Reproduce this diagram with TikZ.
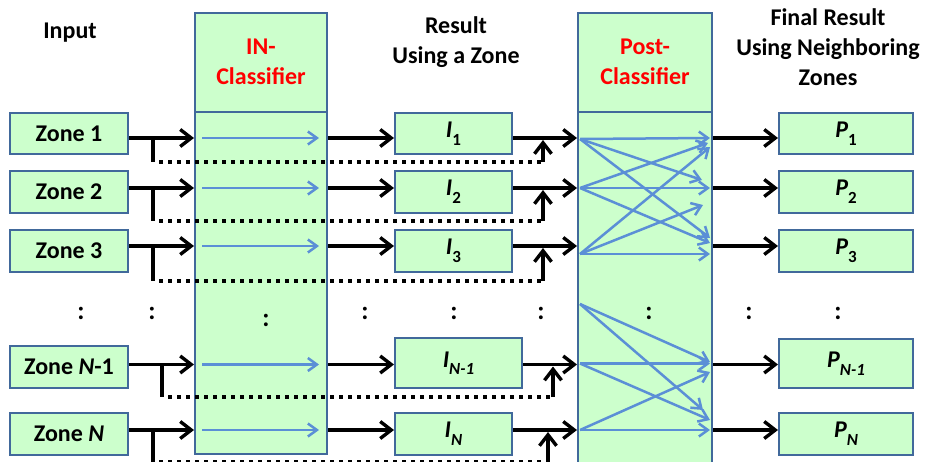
\documentclass[tikz,border=0pt]{standalone}
\usepackage{fontspec}
\setmainfont{Carlito}
\usetikzlibrary{arrows.meta}
\definecolor{boxfill}{RGB}{204,255,204}
\definecolor{boxline}{RGB}{65,105,155}
\definecolor{arrblue}{RGB}{91,143,214}
\newcommand\zsub[2]{{\itshape #1}\raisebox{-0.32em}{\fontsize{17}{17}\selectfont #2}}
\begin{document}
\begin{tikzpicture}[x=1pt,y=-1pt,
  every node/.style={font=\fontsize{24}{30}\selectfont\bfseries, inner sep=0pt},
  gbox/.style={draw=boxline, line width=2pt, fill=boxfill, minimum width=118pt, minimum height=42pt},
  colbox/.style={draw=boxline, line width=2pt, fill=boxfill, minimum width=132pt},
  headtxt/.style={align=center},
  redtxt/.style={align=center, text=red},
  blkline/.style={line width=3.4pt},
  blk/.style={line width=3.4pt, -{Straight Barb[length=11pt,width=17pt]}},
  bl/.style={draw=arrblue, line width=2.5pt, -{Straight Barb[length=9pt,width=13pt]}},
  dots/.style={line width=3.6pt, dash pattern=on 3.6pt off 5.4pt},
  colon/.style={font=\fontsize{26}{26}\selectfont\bfseries}
]
\useasboundingbox (0,0) rectangle (928,461);
\clip (0,0) rectangle (928,461);

% columns
\node[colbox, minimum height=99pt] (inh) at (261,62.2) {};
\node[redtxt] (inht) at (261,62.2) {IN-\\Classifier};
\node[colbox, minimum height=342.3pt] (inc) at (261,282.85) {};
\node[colbox, minimum width=134pt, minimum height=99pt] (ph) at (645,62.2) {};
\node[redtxt] (pht) at (645,62.2) {Post-\\Classifier};
\node[colbox, minimum width=134pt, minimum height=368.3pt] (pc) at (645,295.85) {};

% headings
\node[headtxt] (hin) at (70,33) {Input};
\node[headtxt] (hres) at (456,42.5) {Result\\Using a Zone};
\node[headtxt] (hfin) at (828,47) {Final Result\\Using Neighboring\\Zones};

% zone boxes
\node[gbox, minimum height=41pt] (z1) at (69,133.5) {Zone 1};
\node[gbox] (z2) at (69,192) {Zone 2};
\node[gbox] (z3) at (69,250.5) {Zone 3};
\node[gbox] (zn1) at (69,367) {Zone \textit{N}-1};
\node[gbox] (zn) at (69,434) {Zone \textit{N}};

% intermediate result boxes
\node[gbox, minimum width=117pt, minimum height=41pt] (i1) at (453.5,133.5) {\zsub{I}{1}};
\node[gbox, minimum width=117pt] (i2) at (453.5,192) {\zsub{I}{2}};
\node[gbox, minimum width=117pt] (i3) at (453.5,250.5) {\zsub{I}{3}};
\node[gbox, minimum width=127pt, minimum height=50pt] (in1) at (458.5,363.3) {\zsub{I}{\itshape N-1}};
\node[gbox, minimum width=117pt] (in) at (453.5,434) {\zsub{I}{\itshape N}};

% final result boxes
\node[gbox, minimum width=134pt, minimum height=41pt] (p1) at (846,133.5) {\zsub{P}{1}};
\node[gbox, minimum width=134pt] (p2) at (846,192) {\zsub{P}{2}};
\node[gbox, minimum width=134pt] (p3) at (846,250.5) {\zsub{P}{3}};
\node[gbox, minimum width=134pt, minimum height=49pt] (pn1) at (846,363.7) {\zsub{P}{\itshape N-1}};
\node[gbox, minimum width=134pt] (pn) at (846,434) {\zsub{P}{\itshape N}};

% row levels
\coordinate (r1) at (0,138);
\coordinate (r2) at (0,188);
\coordinate (r3) at (0,246);
\coordinate (r4) at (0,364.5);
\coordinate (r5) at (0,430);

% blue arrows inside IN-Classifier
\foreach \r in {r1,r2,r3,r4,r5}{
  \draw[bl] ([xshift=8pt]inc.west |- \r) -- ([xshift=-9pt]inc.east |- \r);
}

% black arrows
\foreach \z/\i/\p/\r in {z1/i1/p1/r1, z2/i2/p2/r2, z3/i3/p3/r3, zn1/in1/pn1/r4, zn/in/pn/r5}{
  \draw[blk] (\z.east |- \r) -- (inc.west |- \r);
  \draw[blk] (inc.east |- \r) -- (\i.west |- \r);
  \draw[blk] (\i.east |- \r) -- (pc.west |- \r);
  \draw[blk] (pc.east |- \r) -- (\p.west |- \r);
}

% dotted bypass lines
\coordinate (a1) at (153,162);   \coordinate (b1) at (543,162);
\coordinate (a2) at (153,221);   \coordinate (b2) at (543,221);
\coordinate (a3) at (153,281);   \coordinate (b3) at (543,281);
\coordinate (a4) at (162,397);   \coordinate (b4) at (553,397);
\coordinate (a5) at (153,462);   \coordinate (b5) at (548,462);
\foreach \a/\b/\r in {a1/b1/r1, a2/b2/r2, a3/b3/r3, a4/b4/r4, a5/b5/r5}{
  \draw[blkline] (\a |- \r) -- (\a);
  \draw[dots] ([xshift=6pt]\a) -- ([xshift=-2pt]\b);
  \draw[blk] (\b) -- ([yshift=-2pt]\b |- \r);
}

% post-classifier crossing arrows
\coordinate (o1) at (580,139);
\coordinate (o2) at (580,188);
\coordinate (o3) at (580,254);
\coordinate (o4) at (580,304);
\coordinate (o5) at (580,363.5);
\coordinate (o6) at (580,430);
\coordinate (t11) at (710,138);  \coordinate (t12) at (702,180);  \coordinate (t13) at (710,238);
\coordinate (t21) at (708,143);  \coordinate (t22) at (710,188);  \coordinate (t23) at (710,243);
\coordinate (t31) at (710,147);  \coordinate (t32) at (703,205);  \coordinate (t33) at (710,254);
\coordinate (t41) at (710,362);  \coordinate (t42) at (703,410);
\coordinate (t51) at (710,363.5);\coordinate (t52) at (710,420);
\coordinate (t61) at (710,372);  \coordinate (t62) at (710,430);
\foreach \o/\t in {o1/t11,o1/t12,o1/t13,o2/t21,o2/t22,o2/t23,o3/t31,o3/t32,o3/t33,
                   o4/t41,o4/t42,o5/t51,o5/t52,o6/t61,o6/t62}{
  \draw[bl] (\o) -- (\t);
}

% ellipsis colons
\node[colon] (c1) at (81,313) {:};
\node[colon] (c2) at (152,313) {:};
\node[colon] (c3) at (266,320) {:};
\node[colon] (c4) at (365,313) {:};
\node[colon] (c5) at (454,313) {:};
\node[colon] (c6) at (541,313) {:};
\node[colon] (c7) at (649,313) {:};
\node[colon] (c8) at (749,313) {:};
\node[colon] (c9) at (838,313) {:};
\end{tikzpicture}
\end{document}
